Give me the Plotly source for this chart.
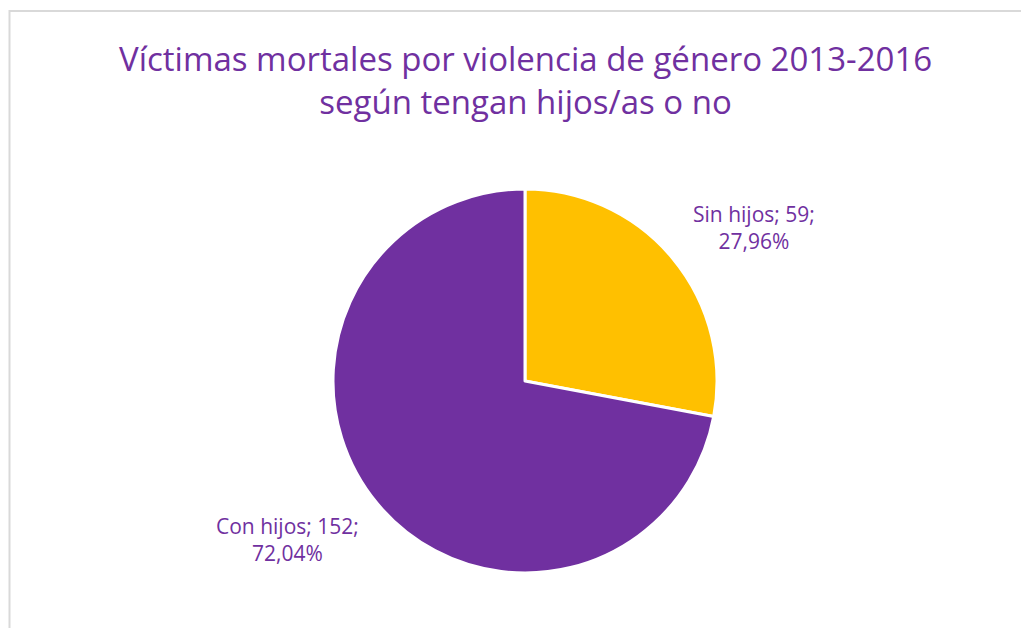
import plotly.graph_objects as go

categories = ["Sin hijos", "Con hijos"]
values = [59, 152]
percents = ["27,96%", "72,04%"]
colors = ["#FFC000", "#7030A0"]
title_lines = ["Víctimas mortales por violencia de género 2013-2016", "según tengan hijos/as o no"]

# page body has an 8px default margin; work in screenshot pixels and shift
OFF = 8
W, H = 1029 - OFF, 628 - OFF
def px(x):
    return (x - OFF) / W
def py(y):
    return 1 - (y - OFF) / H

cx, cy, r = 525, 381, 192

fig = go.Figure(go.Pie(
    labels=categories,
    values=values,
    sort=False,
    direction="clockwise",
    rotation=0,
    textinfo="none",
    hoverinfo="label+value+percent",
    marker=dict(colors=colors, line=dict(color="white", width=3)),
    domain=dict(x=[px(cx - r), px(cx + r)], y=[py(cy + r), py(cy - r)]),
    showlegend=False,
))

purple = "#7030A0"
font_family = "'Open Sans', Lato, sans-serif"

label_pos = [(754, 227), (287, 539)]
for cat, val, pct, (lx, ly) in zip(categories, values, percents, label_pos):
    fig.add_annotation(
        x=px(lx), y=py(ly), xref="paper", yref="paper",
        text=f"{cat}; {val};<br>{pct}", showarrow=False,
        font=dict(family=font_family, size=21, color=purple),
        align="center", xanchor="center", yanchor="middle",
    )

fig.add_annotation(
    x=px(525), y=py(80), xref="paper", yref="paper",
    text="<br>".join(title_lines), showarrow=False,
    font=dict(family=font_family, size=33, color=purple),
    align="center", xanchor="center", yanchor="middle",
)

fig.add_shape(type="rect", xref="paper", yref="paper",
              x0=px(9.5), x1=1.05, y0=-0.05, y1=py(11),
              line=dict(color="#D9D9D9", width=2), fillcolor="rgba(0,0,0,0)")

fig.update_layout(
    width=W, height=H,
    margin=dict(l=0, r=0, t=0, b=0),
    paper_bgcolor="white", plot_bgcolor="white",
)

fig.write_html("out.html")
